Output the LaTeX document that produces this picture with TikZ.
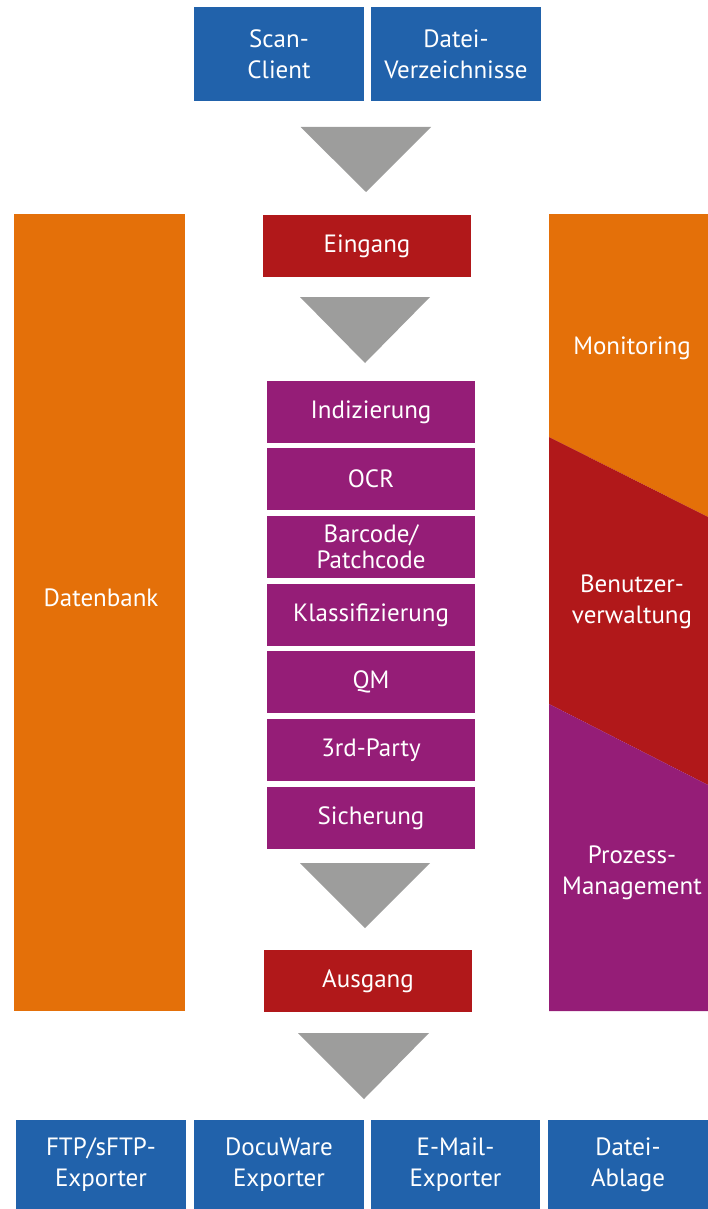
\documentclass[tikz,border=0pt]{standalone}
\usepackage{fontspec}
\setmainfont{PT Sans}
\definecolor{cblue}{HTML}{2162AB}
\definecolor{cred}{HTML}{B1181A}
\definecolor{corange}{HTML}{E47009}
\definecolor{cpurple}{HTML}{951D77}
\definecolor{cgray}{HTML}{9D9D9C}
\tikzset{
  box/.style={rectangle, inner sep=0pt, outer sep=0pt, draw=none, text=white, align=center,
    font=\fontsize{25}{31}\selectfont},
  bluebox/.style={box, fill=cblue, minimum width=170pt, minimum height=94pt},
  bluebox2/.style={box, fill=cblue, minimum width=170pt, minimum height=89pt},
  redbox/.style={box, fill=cred, minimum width=208pt, minimum height=62pt},
  stagebox/.style={box, fill=cpurple, minimum width=208pt, minimum height=62pt},
  sidebar/.style={box, fill=corange, minimum width=171pt, minimum height=797pt},
  lbl/.style={inner sep=0pt, text=white, align=center, font=\fontsize{25}{31}\selectfont},
  tri/.style={fill=cgray, draw=none}
}
\begin{document}
\begin{tikzpicture}[x=1pt,y=-1pt]
\useasboundingbox (0,0) rectangle (708,1209);
% inputs
\node[bluebox] (scan) at (279,54) {Scan-\\Client};
\node[bluebox] (datei) at (456,54) {Datei-\\Verzeichnisse};
% arrow 1
\fill[tri] (300.5,127) -- (431,127) -- (366,192) -- cycle;
% Eingang
\node[redbox] (eingang) at (367,246) {Eingang};
% arrow 2
\fill[tri] (300,297) -- (430,297) -- (365,363) -- cycle;
% stages
\node[stagebox] (idx) at (371,412) {Indizierung};
\node[stagebox] (ocr) at (371,479) {OCR};
\node[stagebox] (bar) at (371,547) {Barcode/\\[-5pt]Patchcode};
\node[stagebox] (kla) at (371,615) {Klassifizierung};
\node[stagebox] (qm) at (371,682) {QM};
\node[stagebox] (trd) at (371,750) {3rd-Party};
\node[stagebox] (sic) at (371,818) {Sicherung};
% arrow 3
\fill[tri] (300,863) -- (430,863) -- (365,928) -- cycle;
% Ausgang
\node[redbox] (ausgang) at (368,981) {Ausgang};
% arrow 4
\fill[tri] (298,1033) -- (429,1033) -- (364,1099) -- cycle;
% left sidebar
\node[sidebar] (db) at (99.5,612.5) {};
\node[lbl] (dbl) at (101,598) {Datenbank};
% right sidebar
\fill[corange] (549,214) -- (708,214) -- (708,517) -- (549,437) -- cycle;
\fill[cred] (549,437) -- (708,517) -- (708,785) -- (549,704) -- cycle;
\fill[cpurple] (549,704) -- (708,785) -- (708,1011) -- (549,1011) -- cycle;
\node[lbl] (mon) at (632,348) {Monitoring};
\node[lbl] (ben) at (632,602) {Benutzer-\\verwaltung};
\node[lbl] (pro) at (632,873) {Prozess-\\Management};
% outputs
\node[bluebox2] (ftp) at (101,1164.5) {FTP/sFTP-\\Exporter};
\node[bluebox2] (dw) at (279,1164.5) {DocuWare\\Exporter};
\node[bluebox2, minimum width=169pt] (mail) at (455.5,1164.5) {E-Mail-\\Exporter};
\node[bluebox2, minimum width=160pt] (abl) at (628,1164.5) {Datei-\\Ablage};
\end{tikzpicture}
\end{document}
